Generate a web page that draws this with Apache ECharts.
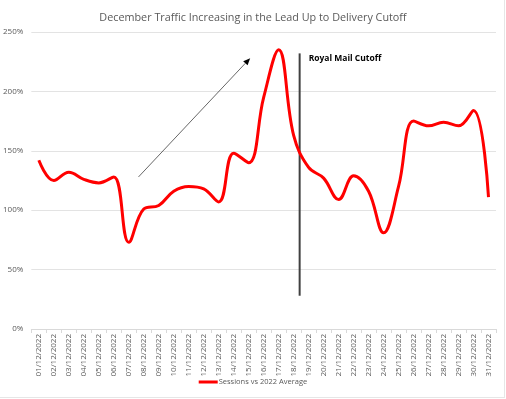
<!DOCTYPE html>
<html>
<head>
<meta charset="utf-8">
<script src="https://cdn.jsdelivr.net/npm/echarts@6/dist/echarts.min.js"></script>
<style>
  html, body { margin: 0; padding: 0; background: #fff; }
  #chart { width: 506px; height: 399px; }
</style>
</head>
<body>
<div id="chart"></div>
<script>
// 日期
var days = [
  '01/12/2022', '02/12/2022', '03/12/2022', '04/12/2022', '05/12/2022', '06/12/2022',
  '07/12/2022', '08/12/2022', '09/12/2022', '10/12/2022', '11/12/2022', '12/12/2022',
  '13/12/2022', '14/12/2022', '15/12/2022', '16/12/2022', '17/12/2022', '18/12/2022',
  '19/12/2022', '20/12/2022', '21/12/2022', '22/12/2022', '23/12/2022', '24/12/2022',
  '25/12/2022', '26/12/2022', '27/12/2022', '28/12/2022', '29/12/2022', '30/12/2022',
  '31/12/2022'
];
// Sessions vs 2022 Average (%)
var sessions = [
  142, 125, 132, 126, 123, 128, 73, 101, 104, 116, 120, 118,
  107, 148, 140, 195, 235, 163, 136, 127, 109, 129, 116, 81,
  120, 175, 171, 174, 171, 184, 111
];
var yTicks = [0, 50, 100, 150, 200, 250];

// annotations, in data units: [category index (may be fractional), value]
var cutoffLine = [[17.4, 232], [17.4, 28]];
var trendArrow = [[6.65, 128], [14.1, 228]];

var grey = '#595959';
var chart = echarts.init(document.getElementById('chart'));

var option = {
  animation: false,
  title: {
    text: 'December Traffic Increasing in the Lead Up to Delivery Cutoff',
    left: 'center',
    top: 7,
    textStyle: {
      color: grey,
      fontFamily: 'Open Sans',
      fontWeight: 'normal',
      fontSize: 10.8
    }
  },
  grid: {
    left: 30,
    right: 10,
    top: 32,
    bottom: 70
  },
  legend: {
    bottom: 8,
    left: 'center',
    itemWidth: 19,
    itemHeight: 3,
    itemGap: 4,
    icon: 'rect',
    textStyle: {
      color: grey,
      fontFamily: 'Open Sans',
      fontSize: 7.5,
      padding: [0, 0, 0, -4]
    },
    data: ['Sessions vs 2022 Average']
  },
  xAxis: {
    type: 'category',
    boundaryGap: true,
    data: days,
    axisLine: { lineStyle: { color: '#d9d9d9' } },
    axisTick: { show: true, length: 4, lineStyle: { color: '#d9d9d9' } },
    axisLabel: {
      rotate: 90,
      interval: 0,
      color: grey,
      fontFamily: 'Open Sans',
      fontSize: 8,
      margin: 5
    }
  },
  yAxis: {
    type: 'value',
    min: 0,
    max: 250,
    interval: 50,
    axisLine: { show: false },
    axisTick: { show: false },
    splitLine: { lineStyle: { color: '#e3e3e3', width: 1 } },
    axisLabel: {
      color: grey,
      fontFamily: 'Open Sans',
      fontSize: 8,
      margin: 8,
      formatter: function (v) {
        return yTicks.indexOf(v) >= 0 ? v + '%' : '';
      }
    }
  },
  series: [{
    name: 'Sessions vs 2022 Average',
    type: 'line',
    smooth: 0.4,
    symbol: 'none',
    data: sessions,
    itemStyle: { color: '#ff0000' },
    lineStyle: { color: '#ff0000', width: 3 }
  }]
};
chart.setOption(option);

// 注释：截止线和趋势箭头
// category axis rounds fractional indices, so interpolate between neighbours
function toPx(p) {
  var i = Math.floor(p[0]);
  var f = p[0] - i;
  var pa = chart.convertToPixel({ xAxisIndex: 0, yAxisIndex: 0 }, [i, p[1]]);
  var pb = chart.convertToPixel({ xAxisIndex: 0, yAxisIndex: 0 }, [i + 1, p[1]]);
  return [pa[0] + f * (pb[0] - pa[0]), pa[1]];
}
var c0 = toPx(cutoffLine[0]);
var c1 = toPx(cutoffLine[1]);
var a0 = toPx(trendArrow[0]);
var a1 = toPx(trendArrow[1]);
var ang = Math.atan2(a1[1] - a0[1], a1[0] - a0[0]);
var hl = 7, hw = 3;
var bx = a1[0] - hl * Math.cos(ang), by = a1[1] - hl * Math.sin(ang);
var head = [
  [a1[0], a1[1]],
  [bx + hw * Math.sin(ang), by - hw * Math.cos(ang)],
  [bx - hw * Math.sin(ang), by + hw * Math.cos(ang)]
];

chart.setOption({
  graphic: [
    {
      type: 'line',
      shape: { x1: c0[0], y1: c0[1], x2: c1[0], y2: c1[1] },
      style: { stroke: '#404040', lineWidth: 2 }
    },
    {
      type: 'text',
      x: c0[0] + 9,
      y: c0[1] + 1,
      style: {
        text: 'Royal Mail Cutoff',
        fill: '#000',
        font: 'bold 8.5px "Open Sans"'
      }
    },
    {
      type: 'line',
      shape: { x1: a0[0], y1: a0[1], x2: bx, y2: by },
      style: { stroke: '#404040', lineWidth: 0.8 }
    },
    {
      type: 'polygon',
      shape: { points: head },
      style: { fill: '#000' }
    },
    {
      type: 'line',
      shape: { x1: 504.5, y1: 0, x2: 504.5, y2: 397.5 },
      style: { stroke: '#e6e6e6', lineWidth: 1 }
    },
    {
      type: 'line',
      shape: { x1: 0, y1: 397.5, x2: 505, y2: 397.5 },
      style: { stroke: '#e6e6e6', lineWidth: 1 }
    }
  ]
});
</script>
</body>
</html>
